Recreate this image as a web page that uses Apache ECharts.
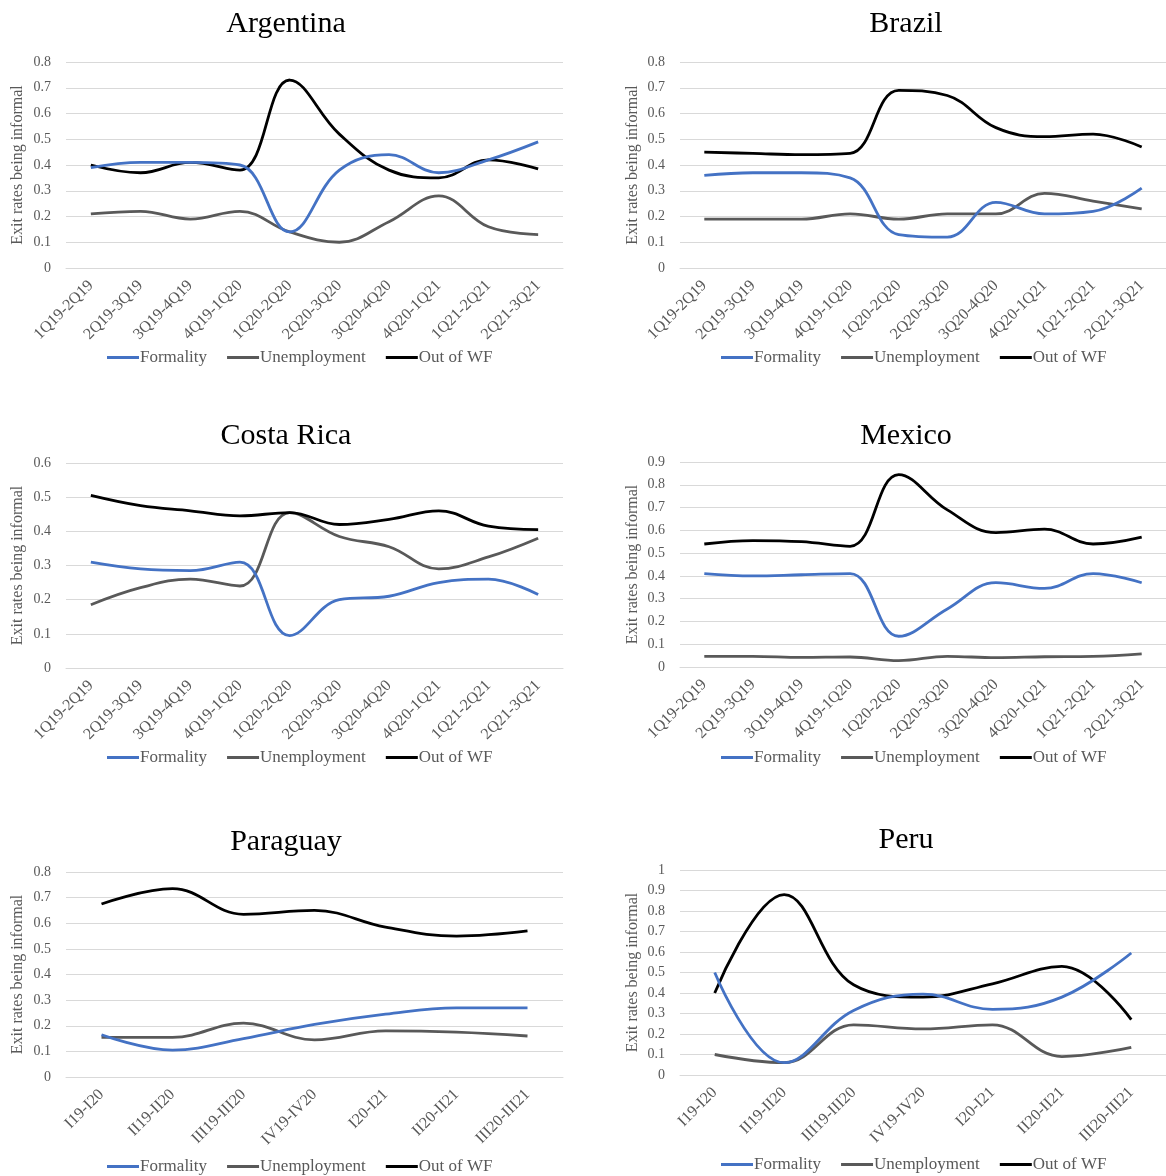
<!DOCTYPE html>
<html><head><meta charset="utf-8">
<script src="https://cdn.jsdelivr.net/npm/echarts@6/dist/echarts.min.js"></script>
<style>html,body{margin:0;padding:0;background:#fff}#c{width:1166px;height:1176px}</style>
</head><body><div id="c"></div>
<script>
const quarterCats = ['1Q19-2Q19','2Q19-3Q19','3Q19-4Q19','4Q19-1Q20','1Q20-2Q20','2Q20-3Q20','3Q20-4Q20','4Q20-1Q21','1Q21-2Q21','2Q21-3Q21'];
const romanCats = ['I19-I20','II19-II20','III19-III20','IV19-IV20','I20-I21','II20-II21','III20-III21'];
const seriesNames = ['Formality','Unemployment','Out of WF'];

const argentinaFormality    = [0.39,0.41,0.41,0.40,0.14,0.38,0.44,0.37,0.42,0.49];
const argentinaUnemployment = [0.21,0.22,0.19,0.22,0.14,0.10,0.18,0.28,0.16,0.13];
const argentinaOutWF        = [0.40,0.37,0.41,0.38,0.73,0.52,0.38,0.35,0.42,0.385];

const brazilFormality    = [0.36,0.37,0.37,0.35,0.13,0.12,0.255,0.21,0.22,0.31];
const brazilUnemployment = [0.19,0.19,0.19,0.21,0.19,0.21,0.21,0.29,0.26,0.23];
const brazilOutWF        = [0.45,0.445,0.44,0.445,0.69,0.67,0.545,0.51,0.52,0.47];

const costaRicaFormality    = [0.31,0.29,0.285,0.31,0.095,0.20,0.21,0.25,0.26,0.215];
const costaRicaUnemployment = [0.185,0.235,0.26,0.24,0.455,0.385,0.355,0.29,0.325,0.38];
const costaRicaOutWF        = [0.505,0.475,0.46,0.445,0.455,0.42,0.435,0.46,0.415,0.405];

const mexicoFormality    = [0.41,0.40,0.405,0.41,0.135,0.255,0.37,0.345,0.41,0.37];
const mexicoUnemployment = [0.047,0.047,0.042,0.044,0.028,0.047,0.041,0.045,0.047,0.058];
const mexicoOutWF        = [0.54,0.555,0.55,0.53,0.845,0.69,0.59,0.605,0.54,0.57];

const paraguayFormality    = [0.165,0.105,0.15,0.205,0.245,0.27,0.27];
const paraguayUnemployment = [0.155,0.155,0.21,0.145,0.18,0.175,0.16];
const paraguayOutWF        = [0.675,0.735,0.635,0.65,0.585,0.55,0.57];

const peruFormality    = [0.50,0.06,0.315,0.395,0.32,0.38,0.595];
const peruUnemployment = [0.10,0.06,0.245,0.225,0.245,0.09,0.135];
const peruOutWF        = [0.40,0.88,0.44,0.38,0.445,0.53,0.27];

const yMaxes = [0.8,0.8,0.6,0.9,0.8,1];

const panels = [
  {title:'Argentina', cats:quarterCats, data:[argentinaFormality,argentinaUnemployment,argentinaOutWF], max:yMaxes[0]},
  {title:'Brazil', cats:quarterCats, data:[brazilFormality,brazilUnemployment,brazilOutWF], max:yMaxes[1]},
  {title:'Costa Rica', cats:quarterCats, data:[costaRicaFormality,costaRicaUnemployment,costaRicaOutWF], max:yMaxes[2]},
  {title:'Mexico', cats:quarterCats, data:[mexicoFormality,mexicoUnemployment,mexicoOutWF], max:yMaxes[3]},
  {title:'Paraguay', cats:romanCats, data:[paraguayFormality,paraguayUnemployment,paraguayOutWF], max:yMaxes[4]},
  {title:'Peru', cats:romanCats, data:[peruFormality,peruUnemployment,peruOutWF], max:yMaxes[5]}
];

// layout
const FONT = "'Liberation Serif', 'DejaVu Serif', serif";
const GRAY = '#595959';
const colors = ['#4472C4', '#595959', '#000000'];
const layout = [
  {left:66, width:497, top:62, height:206, titleX:281, titleY:4, legX:102, legY:344, gap:40},
  {left:680, width:496, top:62, height:206, titleX:901, titleY:4, legX:716, legY:344, gap:39},
  {left:66, width:497, top:463, height:205, titleX:281, titleY:416, legX:102, legY:744, gap:40},
  {left:680, width:496, top:462, height:205, titleX:901, titleY:416, legX:716, legY:744, gap:39},
  {left:66, width:497, top:872, height:205, titleX:281, titleY:822, legX:102, legY:1153, gap:40},
  {left:680, width:496, top:870, height:205, titleX:901, titleY:820, legX:716, legY:1151, gap:39}
];

const option = {
  animation:false,
  backgroundColor:'#fff',
  title:[], legend:[], grid:[], xAxis:[], yAxis:[], series:[]
};

panels.forEach((p, i) => {
  const L = layout[i];
  option.title.push({text:p.title, left:L.titleX, top:L.titleY, textAlign:'center',
    textStyle:{fontFamily:FONT, fontSize:30, fontWeight:'normal', color:'#000'}});
  option.grid.push({left:L.left, width:L.width, top:L.top, height:L.height, containLabel:false});
  option.legend.push({left:L.legX, top:L.legY, icon:'rect', itemWidth:32, itemHeight:3, itemGap:20,
    data:seriesNames, textStyle:{fontFamily:FONT, fontSize:17, color:GRAY, padding:[0,0,0,-4]}});
  option.xAxis.push({type:'category', gridIndex:i, data:p.cats, boundaryGap:true,
    axisLine:{show:true, lineStyle:{color:'#d9d9d9', width:1}}, axisTick:{show:false},
    axisLabel:{interval:0, rotate:45, margin:15, fontFamily:FONT, fontSize:16, color:GRAY}});
  option.yAxis.push({type:'value', gridIndex:i, min:0, max:p.max, interval:0.1,
    name:'Exit rates being informal', nameLocation:'middle', nameGap:L.gap, nameRotate:90,
    nameTextStyle:{fontFamily:FONT, fontSize:16, color:GRAY},
    axisLine:{show:false}, axisTick:{show:false},
    splitLine:{lineStyle:{color:'#d9d9d9', width:1}},
    axisLabel:{margin:15, fontFamily:FONT, fontSize:14, color:GRAY,
      formatter:v => String(Math.round(v*10)/10)}});
  p.data.forEach((arr, k) => {
    option.series.push({name:seriesNames[k], type:'line', xAxisIndex:i, yAxisIndex:i,
      data:arr, smooth:0.4, symbol:'none', z:k===0?3:2,
      lineStyle:{color:colors[k], width:2.8}, itemStyle:{color:colors[k]}});
  });
});

const chart = echarts.init(document.getElementById('c'));
chart.setOption(option);
</script></body></html>
